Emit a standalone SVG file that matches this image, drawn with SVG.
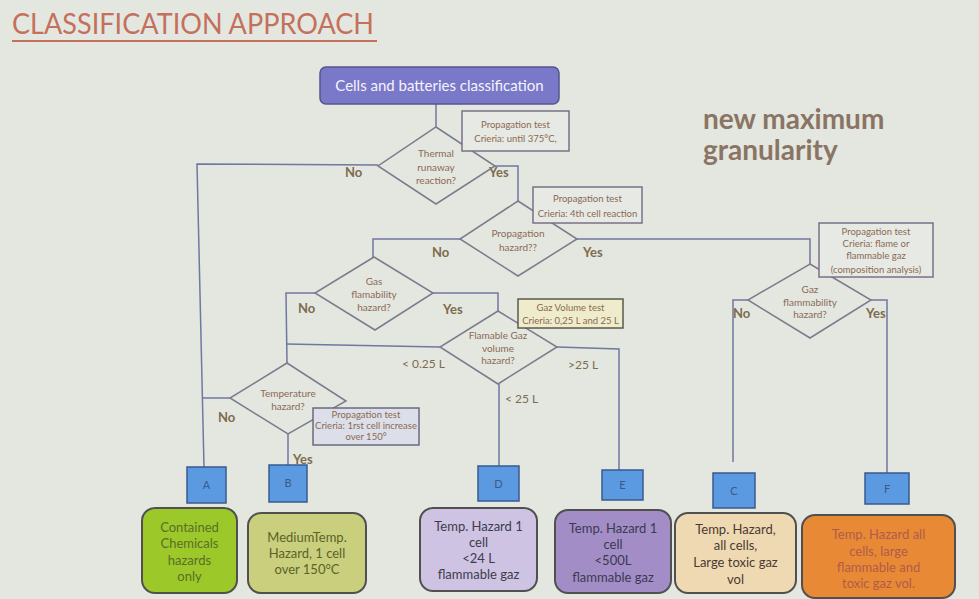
<svg xmlns="http://www.w3.org/2000/svg" width="979" height="599" viewBox="0 0 979 599">
<defs>
<style>
.bg{fill:#e3e7e0}
.conn{fill:none;stroke:#7077a0;stroke-width:1.5}
.dia{fill:none;stroke:#7a7c8c;stroke-width:1.5}
.dt{font-family:Lato,"Open Sans",sans-serif;font-size:10px;fill:#8c6a55;text-anchor:middle}
.ann{fill:#e6e9e4;stroke:#7a7088;stroke-width:1.5}
.at{font-family:Lato,"Open Sans",sans-serif;font-size:9.5px;fill:#8a6a52;text-anchor:middle}
.lbl{font-family:Lato,"Open Sans",sans-serif;font-size:13px;font-weight:bold;fill:#7e6c4c}
.lr{font-family:Lato,"Open Sans",sans-serif;font-size:12px;fill:#7e6c4c}
.sq{fill:#5b9ae0;stroke:#3a5a90;stroke-width:1.5}
.sqt{font-family:Lato,"Open Sans",sans-serif;font-size:11px;fill:#3a5a8a;text-anchor:middle}
.res{stroke:#505050;stroke-width:2}
.rt{font-family:Lato,"Open Sans",sans-serif;font-size:13px;text-anchor:middle}
</style>
</defs>
<rect class="bg" x="0" y="0" width="979" height="599"/>
<g id="title">
<text x="12" y="34" font-family="Lato,'Open Sans',sans-serif" font-size="28" fill="#c4705c" textLength="362" lengthAdjust="spacingAndGlyphs">CLASSIFICATION APPROACH</text>
<line x1="12" y1="41" x2="377" y2="41" stroke="#c4705c" stroke-width="2"/>
</g>
<g id="subtitle">
<text x="703" y="129" font-family="Lato,'Open Sans',sans-serif" font-size="28" font-weight="bold" fill="#8a7464">new maximum</text>
<text x="703" y="160" font-family="Lato,'Open Sans',sans-serif" font-size="28" font-weight="bold" fill="#8a7464">granularity</text>
</g>
<g id="connectors">
<line class="conn" x1="436" y1="104" x2="436" y2="127"/>
<polyline class="conn" points="378,165 197,164 204,467"/>
<polyline class="conn" points="495,166 518,166 518,201"/>
<polyline class="conn" points="460,239 373,239 373,257"/>
<polyline class="conn" points="577,239 810,239 810,264"/>
<polyline class="conn" points="315,293 286,293 287,363"/>
<polyline class="conn" points="433,293 498,293 498,311"/>
<line class="conn" x1="440" y1="347" x2="286" y2="344"/>
<polyline class="conn" points="557,347 619,349 619,470"/>
<line class="conn" x1="499" y1="384" x2="499" y2="466"/>
<line class="conn" x1="230" y1="398" x2="203" y2="398"/>
<line class="conn" x1="288" y1="434" x2="288" y2="465"/>
<polyline class="conn" points="748,300 733,300 733,462"/>
<polyline class="conn" points="871,300 887,300 887,473"/>
</g>
<g id="labels">
<text class="lbl" x="345" y="177">No</text>
<text class="lbl" x="489" y="177">Yes</text>
<text class="lbl" x="432" y="257">No</text>
<text class="lbl" x="583" y="257">Yes</text>
<text class="lbl" x="298" y="313">No</text>
<text class="lbl" x="443" y="314">Yes</text>
<text class="lr" x="402" y="368">&lt; 0.25 L</text>
<text class="lr" x="568" y="369">&gt;25 L</text>
<text class="lr" x="505" y="403">&lt; 25 L</text>
<text class="lbl" x="218" y="422">No</text>
<text class="lbl" x="293" y="464">Yes</text>
<text class="lbl" x="733" y="318">No</text>
<text class="lbl" x="866" y="318">Yes</text>
</g>
<g id="start">
<rect x="320" y="67" width="239" height="37" rx="6" fill="#7a78c8" stroke="#55558a" stroke-width="1.5"/>
<text x="439.5" y="90.5" font-family="Lato,'Open Sans',sans-serif" font-size="15" fill="#f4f4fa" text-anchor="middle">Cells and batteries classification</text>
</g>
<g id="d-thermal">
<polygon class="dia" points="436,127 495,166 436,204 378,166"/>
<text class="dt" x="436" y="157">Thermal</text>
<text class="dt" x="436" y="171">runaway</text>
<text class="dt" x="436" y="184">reaction?</text>
</g>
<g id="n-prop1">
<rect class="ann" x="462" y="111" width="107" height="40"/>
<text class="at" x="515.5" y="128">Propagation test</text>
<text class="at" x="515.5" y="142">Crieria: until 375°C,</text>
</g>
<g id="d-propagation">
<polygon class="dia" points="518,201 577,239 518,276 460,239"/>
<text class="dt" x="518" y="237">Propagation</text>
<text class="dt" x="518" y="251">hazard??</text>
</g>
<g id="n-prop2">
<rect class="ann" x="533" y="187" width="109" height="36"/>
<text class="at" x="587.5" y="202">Propagation test</text>
<text class="at" x="587.5" y="217">Crieria: 4th cell reaction</text>
</g>
<g id="d-gasflam">
<polygon class="dia" points="374,257 433,293 375,330 315,293"/>
<text class="dt" x="374" y="285">Gas</text>
<text class="dt" x="374" y="298">flamability</text>
<text class="dt" x="374" y="311">hazard?</text>
</g>
<g id="d-volume">
<polygon class="dia" points="498,311 557,347 498,384 440,347"/>
<text class="dt" x="498" y="339">Flamable Gaz</text>
<text class="dt" x="498" y="352">volume</text>
<text class="dt" x="498" y="364">hazard?</text>
</g>
<g id="n-gazvol">
<rect x="518" y="299" width="105" height="29" fill="#efeccc" stroke="#5a5a50" stroke-width="1.5"/>
<text class="at" x="570.5" y="311">Gaz Volume test</text>
<text class="at" x="570.5" y="324">Crieria: 0,25 L and 25 L</text>
</g>
<g id="d-temp">
<polygon class="dia" points="287,363 346,401 288,434 230,398"/>
<text class="dt" x="288" y="397">Temperature</text>
<text class="dt" x="288" y="410">hazard?</text>
</g>
<g id="n-prop3">
<rect x="313" y="408" width="106" height="37" fill="#dcdfe9" stroke="#6a6a80" stroke-width="1.5"/>
<text class="at" x="366" y="418" font-size="9">Propagation test</text>
<text class="at" x="366" y="429" font-size="9">Crieria: 1rst cell increase</text>
<text class="at" x="366" y="440" font-size="9">over 150°</text>
</g>
<g id="d-gazflam2">
<polygon class="dia" points="810,264 871,300 810,338 748,300"/>
<text class="dt" x="810" y="293">Gaz</text>
<text class="dt" x="810" y="306">flammability</text>
<text class="dt" x="810" y="318">hazard?</text>
</g>
<g id="n-prop4">
<rect class="ann" x="819" y="223" width="114" height="54"/>
<text class="at" x="876" y="235">Propagation test</text>
<text class="at" x="876" y="247">Crieria: flame or</text>
<text class="at" x="876" y="259">flammable gaz</text>
<text class="at" x="876" y="273">(composition analysis)</text>
</g>
<g id="cat-A">
<rect class="sq" x="187" y="467" width="39" height="36"/>
<text class="sqt" x="206.5" y="489">A</text>
</g>
<g id="cat-B">
<rect class="sq" x="269" y="465" width="38" height="37"/>
<text class="sqt" x="288" y="487">B</text>
</g>
<g id="cat-D">
<rect class="sq" x="478" y="466" width="41" height="35"/>
<text class="sqt" x="498.5" y="488">D</text>
</g>
<g id="cat-E">
<rect class="sq" x="602" y="470" width="41" height="30"/>
<text class="sqt" x="622.5" y="489">E</text>
</g>
<g id="cat-C">
<rect class="sq" x="713" y="473" width="42" height="35"/>
<text class="sqt" x="734" y="495">C</text>
</g>
<g id="cat-F">
<rect class="sq" x="865" y="473" width="44" height="31"/>
<text class="sqt" x="887" y="493">F</text>
</g>
<g id="res-A">
<rect class="res" x="142" y="508" width="95" height="85" rx="13" fill="#9cc829"/>
<text class="rt" fill="#5a6e2a" x="189.5" y="532">Contained</text>
<text class="rt" fill="#5a6e2a" x="189.5" y="548">Chemicals</text>
<text class="rt" fill="#5a6e2a" x="189.5" y="565">hazards</text>
<text class="rt" fill="#5a6e2a" x="189.5" y="581">only</text>
</g>
<g id="res-B">
<rect class="res" x="248" y="513" width="118" height="80" rx="13" fill="#c9cf7d"/>
<text class="rt" fill="#5a6328" x="307" y="542">MediumTemp.</text>
<text class="rt" fill="#5a6328" x="307" y="558">Hazard, 1 cell</text>
<text class="rt" fill="#5a6328" x="307" y="574">over 150°C</text>
</g>
<g id="res-D">
<rect class="res" x="420" y="508" width="117" height="83" rx="13" fill="#cec3e2"/>
<text class="rt" fill="#3c3c4c" x="478.5" y="531">Temp. Hazard 1</text>
<text class="rt" fill="#3c3c4c" x="478.5" y="547">cell</text>
<text class="rt" fill="#3c3c4c" x="478.5" y="563">&lt;24 L</text>
<text class="rt" fill="#3c3c4c" x="478.5" y="579">flammable gaz</text>
</g>
<g id="res-E">
<rect class="res" x="555" y="510" width="116" height="83" rx="13" fill="#a38dc6"/>
<text class="rt" fill="#3a3a50" x="613" y="533">Temp. Hazard 1</text>
<text class="rt" fill="#3a3a50" x="613" y="549">cell</text>
<text class="rt" fill="#3a3a50" x="613" y="565">&lt;500L</text>
<text class="rt" fill="#3a3a50" x="613" y="582">flammable gaz</text>
</g>
<g id="res-C">
<rect class="res" x="675" y="513" width="121" height="80" rx="13" fill="#efd9b3"/>
<text class="rt" fill="#4a3a30" x="735.5" y="534">Temp. Hazard,</text>
<text class="rt" fill="#4a3a30" x="735.5" y="550">all cells,</text>
<text class="rt" fill="#4a3a30" x="735.5" y="567">Large toxic gaz</text>
<text class="rt" fill="#4a3a30" x="735.5" y="584">vol</text>
</g>
<g id="res-F">
<rect class="res" x="802" y="515" width="153" height="83" rx="13" fill="#e88a35"/>
<text class="rt" fill="#b25a4a" x="878.5" y="539">Temp. Hazard all</text>
<text class="rt" fill="#b25a4a" x="878.5" y="556">cells, large</text>
<text class="rt" fill="#b25a4a" x="878.5" y="572">flammable and</text>
<text class="rt" fill="#b25a4a" x="878.5" y="588">toxic gaz vol.</text>
</g>
</svg>
